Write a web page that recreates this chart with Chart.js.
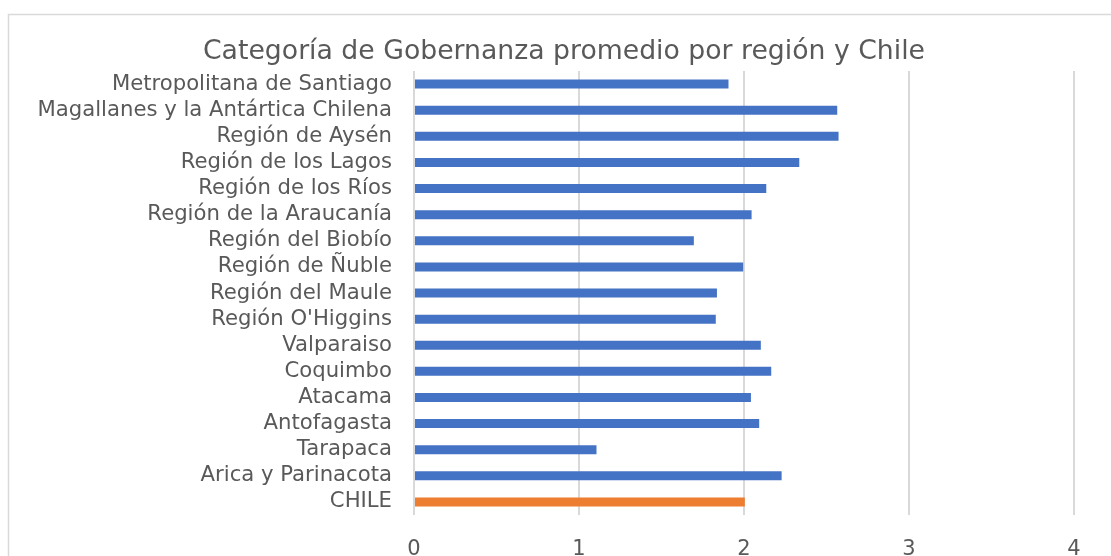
<!DOCTYPE html>
<html><head><meta charset="utf-8">
<script src="https://cdn.jsdelivr.net/npm/chart.js@4.4.1/dist/chart.umd.min.js"></script>
<style>
html,body{margin:0;padding:0;background:#fff;overflow:hidden;width:1111px;height:556px}
#wrap{position:absolute;left:0;top:0;width:1111px;height:556px}
</style></head>
<body><div id="wrap"><canvas id="c" width="1111" height="556"></canvas></div>
<script>
const title = 'Categoría de Gobernanza promedio por región y Chile';
const categories = [
  'Metropolitana de Santiago',
  'Magallanes y la Antártica Chilena',
  'Región de Aysén',
  'Región de los Lagos',
  'Región de los Ríos',
  'Región de la Araucanía',
  'Región del Biobío',
  'Región de Ñuble',
  'Región del Maule',
  "Región O'Higgins",
  'Valparaiso',
  'Coquimbo',
  'Atacama',
  'Antofagasta',
  'Tarapaca',
  'Arica y Parinacota',
  'CHILE'
];
const values = [1.906, 2.565, 2.573, 2.335, 2.135, 2.046, 1.696, 1.995, 1.836, 1.829, 2.102, 2.165, 2.042, 2.092, 1.106, 2.228, 2.005];
const xTicks = [0, 1, 2, 3, 4];

const BLUE = '#4472C4', ORANGE = '#ED7D31';
const colors = categories.map(c => c === 'CHILE' ? ORANGE : BLUE);
const FONT = "'DejaVu Sans', Verdana, sans-serif";

const framePlugin = {
  id: 'frame',
  beforeDraw(chart) {
    const ctx = chart.ctx;
    ctx.save();
    ctx.strokeStyle = '#d9d9d9';
    ctx.lineWidth = 1.5;
    ctx.beginPath();
    ctx.moveTo(8.5, chart.height + 2);
    ctx.lineTo(8.5, 14.5);
    ctx.lineTo(chart.width + 2, 14.5);
    ctx.stroke();
    ctx.restore();
  },
  afterLayout(chart) {
    // centre the title over the (wider) chart frame, as in the original
    const t = chart.titleBlock;
    if (!t) return;
    const shift = 564 - (t.left + t.right) / 2;
    t.left += shift; t.right += shift;
  }
};

new Chart(document.getElementById('c'), {
  type: 'bar',
  data: {
    labels: categories,
    datasets: [{ data: values, backgroundColor: colors, borderWidth: 0, categoryPercentage: 1, barPercentage: 0.345 }]
  },
  plugins: [framePlugin],
  options: {
    indexAxis: 'y',
    responsive: false,
    animation: false,
    layout: { padding: { left: 0, right: 37, top: 0, bottom: 0 } },
    plugins: {
      legend: { display: false },
      tooltip: { enabled: false },
      title: {
        display: true, text: title, color: '#595959',
        font: { family: FONT, size: 26.7, weight: 'normal', lineHeight: 1.2 },
        padding: { top: 36, bottom: 3 }
      }
    },
    scales: {
      x: {
        min: xTicks[0], max: xTicks[xTicks.length - 1],
        afterBuildTicks: s => { s.ticks = xTicks.map(v => ({ value: v })); },
        afterFit: s => { s.height = 41; },
        grid: { color: '#d9d9d9', lineWidth: 2, drawTicks: false },
        border: { display: false },
        ticks: { color: '#595959', padding: 22, font: { family: FONT, size: 21 } }
      },
      y: {
        afterFit: s => { s.width = 414; },
        grid: { display: false, drawTicks: false },
        border: { display: false },
        ticks: { color: '#595959', padding: 22, autoSkip: false, font: { family: FONT, size: 21.2 } }
      }
    }
  }
});
</script>
</body></html>
